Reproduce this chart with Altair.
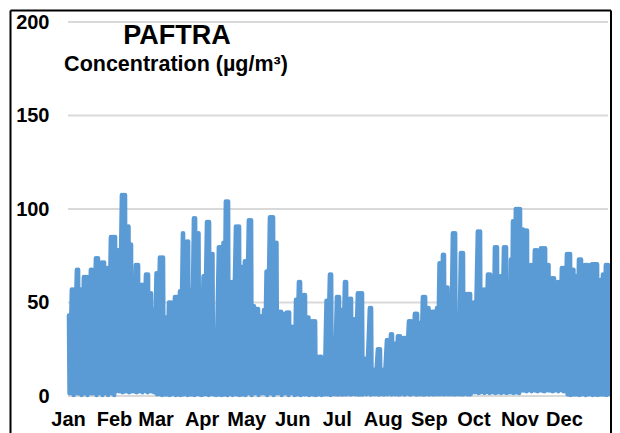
import math
import altair as alt
import pandas as pd

months = ["Jan", "Feb", "Mar", "Apr", "May", "Jun", "Jul", "Aug", "Sep", "Oct", "Nov", "Dec"]
month_start = [0, 31, 59, 90, 120, 151, 181, 212, 243, 273, 304, 334]
month_low_a = [1.5, 2.5, 1.0, 1.0, 1.5, 1.0, 1.0, 1.0, 1.0, 2.0, 3.0, 1.0]
month_low_b = [0.6, 2.0, 0.5, 0.6, 0.6, 0.5, 0.8, 0.8, 1.0, 1.6, 2.6, 0.5]
y_ticks = [0, 50, 100, 150, 200]

# Upper envelope of the concentration trace:
# each stretch ends on the day in seg_end and peaks at the value in seg_peak.
seg_end = [
    1.3, 4.7, 8.1, 9.4, 14.1, 17.5, 21.5, 25.6, 27.6, 33, 35, 39.7, 41.8, 43.1, 44.4,
    48.5, 51.2, 55.2, 56.6, 58.6, 60.6, 65.3, 66.7, 70.7, 74.7, 76.1, 78.8, 82.2, 83.5, 86.9,
    88.9, 90.2, 92.3, 96.3, 98.3, 100.3, 104.4, 105, 109.1, 111.8, 116.5, 117.8, 120.5, 124.6, 125.9,
    129.3, 131.3, 132.7, 134.7, 139.4, 141.4, 144.8, 146.1, 150.2, 151.5, 152.9, 154.2, 157.6, 160.9,
    163, 167.7, 168.4, 171.7, 173.1, 175.1, 178.5, 179.8, 183.8, 185.2, 188.6, 191.9, 193.9, 199.3, 202,
    205.4, 207.4, 211.4, 213.5, 216.2, 219.5, 220.9, 224.9, 228.3, 232.3, 236.4, 237.7, 241.8, 243.8, 247.8,
    249.2, 251.2, 254.5, 256.6, 257.9, 262, 263.3, 267.3, 272.1, 274.7, 278.8, 281.5, 285.5, 286.2, 290.2,
    292.3, 296.3, 297.6, 299, 300.3, 305.7, 307.1, 310.4, 313.1, 317.2, 322.6, 324.6, 328.6, 331.3, 334.7,
    339.4, 341.4, 342.8, 346.8, 351.5, 357.6, 359.6, 360.9, 365,
]
seg_peak = [
    43, 57, 67.5, 57, 63.6, 67.5, 73.7, 71.4, 68.4, 85, 78, 107.5, 90.6, 81, 52,
    70, 59.5, 65, 55, 46, 65.7, 74, 42, 50, 53, 56, 87, 82.6, 57, 95,
    87, 57, 64, 93, 76, 35, 79.6, 82, 104, 61, 90.6, 69, 72, 94, 48,
    46.5, 42.6, 46, 66.6, 95.6, 82, 45, 44, 44.7, 37, 34, 51.5, 61, 54,
    42, 40, 21, 21, 14, 51, 65, 24, 53, 46, 61, 52, 41, 55, 20,
    47, 14, 25, 14, 30, 33, 28, 32, 31, 40, 44, 39, 53, 47, 45,
    47, 71, 75.5, 58, 49, 87, 20, 76.5, 54.5, 50, 88, 57, 65, 60, 79.6,
    64, 79.6, 43, 73, 93.5, 100, 89, 88.5, 70, 78, 79, 70, 63, 61, 68.5,
    76, 67.5, 64, 73, 70, 70.5, 62, 65, 70,
]
assert len(seg_end) == len(seg_peak)

rows = []
start = 0.0
flip = 0
for end, peak in zip(seg_end, seg_peak):
    span = end - start
    inner = max(span - 2.6, 0.0)
    n = 1 if inner == 0 else math.ceil(inner / 1.2) + 1
    for k in range(n):
        d = start + span / 2 if n == 1 else start + 1.3 + inner * k / (n - 1)
        m = sum(1 for s in month_start if s <= d) - 1
        rows.append({"day": d, "c": peak})
        flip += 1
        low = month_low_a[m] if flip % 3 else month_low_b[m]
        rows.append({"day": d + 0.4, "c": low})
    start = end
trace = pd.DataFrame(rows)

color = "#5B9BD5"
font = "Liberation Sans"
labels_js = "[" + ",".join(f"'{m}'" for m in months) + "]"

x_scale = alt.Scale(domain=[0, 365], nice=False, zero=False)
y_scale = alt.Scale(domain=[0, 200], nice=False)
y_axis = alt.Axis(
    values=y_ticks, title=None, domain=False, ticks=False, grid=False,
    labelFont=font, labelFontSize=20, labelFontWeight="bold",
    labelColor="#000000", labelPadding=19, labelOverlap=False,
)

grid = (
    alt.Chart(pd.DataFrame({"v": y_ticks}))
    .mark_rule(color="#D9D9D9", strokeWidth=2)
    .encode(y=alt.Y("v:Q", scale=y_scale, axis=y_axis), x=alt.value(0), x2=alt.value(540))
)

line = (
    alt.Chart(trace)
    .mark_line(color=color, strokeWidth=4.5, strokeJoin="round", strokeCap="round", clip=False)
    .encode(
        x=alt.X(
            "day:Q",
            scale=x_scale,
            axis=alt.Axis(
                values=month_start, title=None, domain=False, ticks=False, grid=False,
                labelFont=font, labelFontSize=20, labelFontWeight="bold",
                labelColor="#000000", labelPadding=13, labelOverlap=False, labelFlush=False,
                labelExpr=f"{labels_js}[round(datum.value/30.4)]",
            ),
        ),
        y=alt.Y("c:Q", scale=y_scale, axis=y_axis),
    )
)

title_a = alt.Chart(pd.DataFrame({"t": ["PAFTRA"]})).mark_text(
    font=font, fontSize=27, fontWeight="bold", color="#000000", align="center", baseline="middle"
).encode(text="t:N", x=alt.value(109), y=alt.value(14))
title_b = alt.Chart(pd.DataFrame({"t": ["Concentration (µg/m³)"]})).mark_text(
    font=font, fontSize=21.5, fontWeight="bold", color="#000000", align="center", baseline="middle"
).encode(text="t:N", x=alt.value(108), y=alt.value(43))

frame_kw = dict(color="#000000", strokeWidth=2)
frame_top = alt.Chart().mark_rule(**frame_kw).encode(x=alt.value(-57.5), x2=alt.value(543), y=alt.value(-11.5))
frame_left = alt.Chart().mark_rule(**frame_kw).encode(x=alt.value(-57.5), y=alt.value(-11.5), y2=alt.value(415))
frame_right = alt.Chart().mark_rule(**frame_kw).encode(x=alt.value(543), y=alt.value(-11.5), y2=alt.value(415))

chart = (
    alt.layer(grid, line, title_a, title_b, frame_top, frame_left, frame_right)
    .properties(
        width=542,
        height=374,
        autosize=alt.AutoSizeParams(type="none"),
        padding={"left": 60, "top": 14, "right": 2, "bottom": 37},
        background="#FFFFFF",
    )
    .configure_view(stroke=None)
)

chart.save("out.html", embed_options={"renderer": "svg", "actions": False})
